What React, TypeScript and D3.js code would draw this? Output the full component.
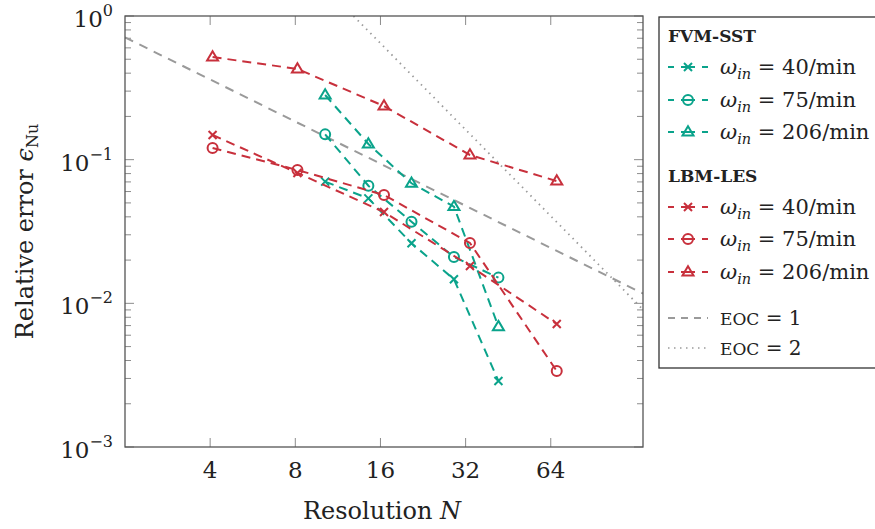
import React from "react";
import * as d3 from "d3";

// ---- data ----
const fvmN = [10.2, 14.5, 20.6, 29.1, 41.8];
const fvm40 = [0.0703, 0.0538, 0.0262, 0.0147, 0.00288];
const fvm75 = [0.15, 0.0659, 0.037, 0.021, 0.0151];
const fvm206 = [0.282, 0.1286, 0.0685, 0.0471, 0.00688];
const lbmN = [4.08, 8.14, 16.47, 33.15, 67.2];
const lbm40 = [0.1485, 0.0808, 0.0432, 0.0182, 0.00718];
const lbm75 = [0.1206, 0.0847, 0.0568, 0.0263, 0.00338];
const lbm206 = [0.518, 0.428, 0.236, 0.1078, 0.071];
const eoc1N = [2, 135.6];
const eoc1E = [0.71, 0.0117];
const eoc2N = [12.85, 135.6];
const eoc2E = [1.0, 0.00905];
const xTicks = [4, 8, 16, 32, 64];
const yTicks = [1, 0.1, 0.01, 0.001];
const yTickExp = ["0", "−1", "−2", "−3"];
const omegaLabels = ["40", "75", "206"];

const W = 875, H = 529;
const L = 125, R = 643, T = 16, B = 447;
const TEAL = "#0aa38b";
const RED = "#c8303c";
const GRAY = "#9a9a9a";
const FONT = "DejaVu Serif";

const x = d3.scaleLog().base(2).domain([2, 135.6]).range([L, R]);
const y = d3.scaleLog().base(10).domain([1e-3, 1]).range([B, T]);

type Mk = "x" | "o" | "t";

function Marker({ cx, cy, kind, color }: { cx: number; cy: number; kind: Mk; color: string }) {
  const s = 4;
  if (kind === "x")
    return (
      <path d={`M${cx - s},${cy - s}L${cx + s},${cy + s}M${cx - s},${cy + s}L${cx + s},${cy - s}`} stroke={color} strokeWidth={2} fill="none" />
    );
  if (kind === "o") return <circle cx={cx} cy={cy} r={5} stroke={color} strokeWidth={2} fill="none" />;
  const r = 5.8;
  return (
    <path
      d={`M${cx},${cy - r}L${cx + r * 0.95},${cy + r * 0.6}L${cx - r * 0.95},${cy + r * 0.6}Z`}
      stroke={color}
      strokeWidth={2}
      fill="none"
      strokeLinejoin="miter"
    />
  );
}

const series = [
  { n: fvmN, e: fvm40, c: TEAL, m: "x" as Mk },
  { n: fvmN, e: fvm75, c: TEAL, m: "o" as Mk },
  { n: fvmN, e: fvm206, c: TEAL, m: "t" as Mk },
  { n: lbmN, e: lbm40, c: RED, m: "x" as Mk },
  { n: lbmN, e: lbm75, c: RED, m: "o" as Mk },
  { n: lbmN, e: lbm206, c: RED, m: "t" as Mk },
];

const line = d3
  .line<[number, number]>()
  .x((d) => x(d[0]))
  .y((d) => y(d[1]));

function minorTicks(): number[] {
  const out: number[] = [];
  for (let d = -3; d < 0; d++) for (let k = 2; k <= 9; k++) out.push(k * Math.pow(10, d));
  return out;
}

function OmegaText({ tx, ty, val }: { tx: number; ty: number; val: string }) {
  return (
    <text x={tx} y={ty} fontFamily={FONT} fontSize={21} fill="#222">
      <tspan fontStyle="italic">ω</tspan>
      <tspan fontStyle="italic" fontSize={14.5} dy={5}>in</tspan>
      <tspan dy={-5}>{" = " + val + "/min"}</tspan>
    </text>
  );
}

export default function App() {
  const legX = 659, legY = 17, legH = 351;
  const sx0 = 668, sx1 = 708, smid = 688, tx = 720;
  const fvmRows = [67, 100, 132];
  const lbmRows = [207, 239, 272];
  const kinds: Mk[] = ["x", "o", "t"];
  return (
    <svg width={W} height={H} style={{ position: "absolute", left: 0, top: 0, background: "#fff" }}>
      <defs>
        <clipPath id="plotclip">
          <rect x={L} y={T} width={R - L} height={B - T} />
        </clipPath>
      </defs>
      {/* ticks */}
      {minorTicks().map((v, i) => (
        <g key={"mn" + i} stroke="#8c8c8c" strokeWidth={1}>
          <line x1={L} x2={L + 6} y1={y(v)} y2={y(v)} />
          <line x1={R} x2={R - 6} y1={y(v)} y2={y(v)} />
        </g>
      ))}
      {yTicks.map((v, i) => (
        <g key={"yt" + i}>
          <line x1={L} x2={L + 9} y1={y(v)} y2={y(v)} stroke="#8c8c8c" />
          <line x1={R} x2={R - 9} y1={y(v)} y2={y(v)} stroke="#8c8c8c" />
          <text x={113} y={y(v) + 11} textAnchor="end" fontFamily={FONT} fontSize={23} fill="#222">
            10<tspan fontSize={16} dy={-11}>{yTickExp[i]}</tspan>
          </text>
        </g>
      ))}
      {xTicks.map((v, i) => (
        <g key={"xt" + i}>
          <line x1={x(v)} x2={x(v)} y1={B} y2={B - 9} stroke="#8c8c8c" />
          <line x1={x(v)} x2={x(v)} y1={T} y2={T + 9} stroke="#8c8c8c" />
          <text x={x(v)} y={478} textAnchor="middle" fontFamily={FONT} fontSize={23} fill="#222">
            {v}
          </text>
        </g>
      ))}
      {/* reference lines */}
      <g clipPath="url(#plotclip)">
        <path
          d={line(eoc1N.map((n, i) => [n, eoc1E[i]]) as [number, number][]) || ""}
          stroke={GRAY}
          strokeWidth={2}
          strokeDasharray="9 7"
          fill="none"
        />
        <path
          d={line(eoc2N.map((n, i) => [n, eoc2E[i]]) as [number, number][]) || ""}
          stroke={GRAY}
          strokeWidth={1.8}
          strokeDasharray="1.5 4.5"
          fill="none"
        />
      </g>
      {/* series */}
      {series.map((s, si) => (
        <g key={"s" + si}>
          <path
            d={line(s.n.map((n, i) => [n, s.e[i]]) as [number, number][]) || ""}
            stroke={s.c}
            strokeWidth={2}
            strokeDasharray="9 6"
            fill="none"
          />
          {s.n.map((n, i) => (
            <Marker key={i} cx={x(n)} cy={y(s.e[i])} kind={s.m} color={s.c} />
          ))}
        </g>
      ))}
      {/* frame */}
      <rect x={L} y={T} width={R - L} height={B - T} fill="none" stroke="#555" strokeWidth={1.3} />
      {/* axis titles */}
      <text x={382} y={519} textAnchor="middle" fontFamily={FONT} fontSize={24} fill="#222">
        Resolution <tspan fontStyle="italic">N</tspan>
      </text>
      <text
        transform={`translate(33,${(T + B) / 2}) rotate(-90)`}
        textAnchor="middle"
        fontFamily={FONT}
        fontSize={24}
        fill="#222"
      >
        Relative error <tspan fontStyle="italic">ϵ</tspan>
        <tspan fontSize={16} dy={5}>Nu</tspan>
      </text>
      {/* legend */}
      <rect x={legX} y={legY} width={W - legX + 5} height={legH} fill="#fff" stroke="#333" strokeWidth={1.3} />
      <text x={sx0} y={42} fontFamily={FONT} fontWeight="bold" fontSize={17} fill="#222">FVM-SST</text>
      <text x={sx0} y={182} fontFamily={FONT} fontWeight="bold" fontSize={17} fill="#222">LBM-LES</text>
      {[
        { rows: fvmRows, c: TEAL },
        { rows: lbmRows, c: RED },
      ].map((grp, gi) =>
        grp.rows.map((ry, ri) => (
          <g key={"lg" + gi + ri}>
            <line x1={sx0} x2={sx1} y1={ry} y2={ry} stroke={grp.c} strokeWidth={2} strokeDasharray="6 7 14 7 6" />
            <Marker cx={smid} cy={ry} kind={kinds[ri]} color={grp.c} />
            <OmegaText tx={tx} ty={ry + 7} val={omegaLabels[ri]} />
          </g>
        ))
      )}
      <line x1={sx0} x2={sx1} y1={318} y2={318} stroke={GRAY} strokeWidth={2} strokeDasharray="7 6" />
      <text x={tx} y={325} fontFamily={FONT} fontSize={20} fill="#222">
        <tspan fontSize={17}>EOC</tspan> = 1
      </text>
      <line x1={sx0} x2={sx1 + 2} y1={348} y2={348} stroke={GRAY} strokeWidth={1.6} strokeDasharray="1.5 4.5" />
      <text x={tx} y={355} fontFamily={FONT} fontSize={20} fill="#222">
        <tspan fontSize={17}>EOC</tspan> = 2
      </text>
    </svg>
  );
}
